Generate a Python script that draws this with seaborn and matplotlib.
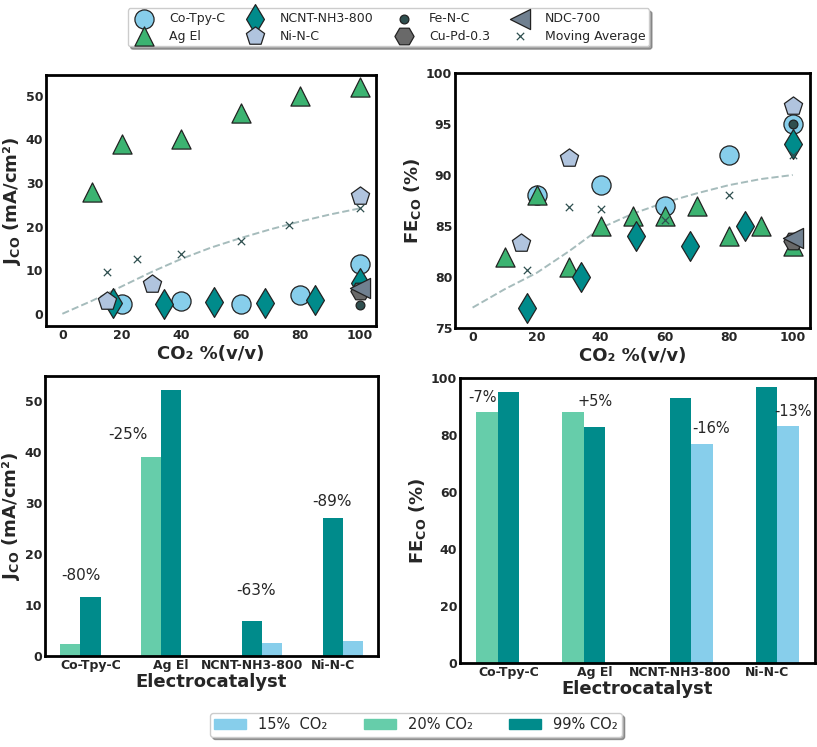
import numpy as np
import pandas as pd
import matplotlib
matplotlib.use('Agg')
import matplotlib.pyplot as plt
from matplotlib.patches import Patch
import seaborn as sns

# --- scatter data: J_CO (mA/cm2) vs CO2 %
co_x_j = [20, 40, 60, 80, 100]
co_y_j = [2.3, 3.0, 2.3, 4.3, 11.5]
ag_x_j = [10, 20, 40, 60, 80, 100]
ag_y_j = [28, 39, 40, 46, 50, 52]
ncnt_x_j = [17, 34, 51, 68, 85, 100]
ncnt_y_j = [2.5, 2.2, 2.8, 2.5, 3.2, 7.0]
ni_x_j = [15, 30, 100]
ni_y_j = [3.0, 6.8, 27.0]
fe_x_j = [100]
fe_y_j = [2.0]
cupd_x_j = [100]
cupd_y_j = [5.2]
ndc_x_j = [100]
ndc_y_j = [6.0]
ma_x_j = [15, 25, 40, 60, 76, 100]
ma_y_j = [9.6, 12.5, 13.8, 16.6, 20.4, 24.3]
trend_x_j = [0, 10, 20, 30, 40, 50, 60, 70, 80, 90, 100]
trend_y_j = [0.0, 3.0, 6.3, 9.6, 12.6, 15.2, 17.4, 19.4, 21.2, 22.8, 24.2]

# --- scatter data: FE_CO (%) vs CO2 %
co_x_f = [20, 40, 60, 80, 100]
co_y_f = [88, 89, 87, 92, 95]
ag_x_f = [10, 20, 30, 40, 50, 60, 70, 80, 90, 100]
ag_y_f = [82, 88, 81, 85, 86, 86, 87, 84, 85, 83]
ncnt_x_f = [17, 34, 51, 68, 85, 100]
ncnt_y_f = [77, 80, 84, 83, 85, 93]
ni_x_f = [15, 30, 100]
ni_y_f = [83.3, 91.7, 96.8]
fe_x_f = [100]
fe_y_f = [95]
cupd_x_f = [100]
cupd_y_f = [83.5]
ndc_x_f = [100]
ndc_y_f = [83.8]
ma_x_f = [17, 30, 40, 60, 80, 100]
ma_y_f = [80.7, 86.9, 86.7, 85.6, 88.0, 92.0]
trend_x_f = [0, 10, 20, 30, 40, 50, 60, 70, 80, 90, 100]
trend_y_f = [77.0, 78.8, 80.4, 82.5, 84.8, 86.2, 87.3, 88.2, 89.0, 89.6, 90.0]

# --- bar data
catalysts = ['Co-Tpy-C', 'Ag El', 'NCNT-NH3-800', 'Ni-N-C']
bar_cat = ['Co-Tpy-C', 'Co-Tpy-C', 'Ag El', 'Ag El', 'NCNT-NH3-800', 'NCNT-NH3-800', 'Ni-N-C', 'Ni-N-C']
bar_conc = ['20% CO₂', '99% CO₂', '20% CO₂', '99% CO₂', '99% CO₂', '15%  CO₂', '99% CO₂', '15%  CO₂']
bar_j = [2.3, 11.5, 39.0, 52.0, 6.9, 2.5, 27.0, 2.9]
bar_fe = [88, 95, 88, 83, 93, 77, 96.8, 83.2]

j_notes = ['-80%', '-25%', '-63%', '-89%']
j_note_x = [-0.12, 0.47, 2.05, 2.99]
j_note_y = [15.7, 43.3, 12.8, 30.2]
fe_notes = ['-7%', '+5%', '-16%', '-13%']
fe_note_x = [-0.30, 1.01, 2.36, 3.31]
fe_note_y = [93.2, 91.8, 82.4, 88.1]

sns.set_style('white')

fig = plt.figure(figsize=(8.17, 7.47), dpi=100)
ax1 = fig.add_axes([0.0563, 0.5636, 0.4039, 0.336])
ax2 = fig.add_axes([0.5569, 0.5609, 0.4345, 0.3414])
ax3 = fig.add_axes([0.0551, 0.1218, 0.4076, 0.3748])
ax4 = fig.add_axes([0.5630, 0.1124, 0.4345, 0.3815])

c_co = '#87CEEB'
c_ag = '#3CB371'
c_ncnt = '#008B8B'
c_ni = '#B0C4DE'
c_fe = '#2F4F4F'
c_cupd = '#696969'
c_ndc = '#708090'


def scatter_panel(ax, d):
    sns.lineplot(x=d['tx'], y=d['ty'], ax=ax, color='#a6bcbc', linestyle='--',
                 linewidth=1.4, zorder=1)
    kw = dict(ax=ax, edgecolor='#222222', linewidth=0.9, zorder=3)
    sns.scatterplot(x=d['co'][0], y=d['co'][1], marker='o', s=190, color=c_co, label='Co-Tpy-C', **kw)
    sns.scatterplot(x=d['ag'][0], y=d['ag'][1], marker='^', s=190, color=c_ag, label='Ag El', **kw)
    sns.scatterplot(x=d['ncnt'][0], y=d['ncnt'][1], marker='d', s=230, color=c_ncnt, label='NCNT-NH3-800', **kw)
    sns.scatterplot(x=d['ni'][0], y=d['ni'][1], marker='p', s=190, color=c_ni, label='Ni-N-C', **kw)
    sns.scatterplot(x=d['fe'][0], y=d['fe'][1], marker='o', s=40, color=c_fe, label='Fe-N-C', **kw)
    sns.scatterplot(x=d['cupd'][0], y=d['cupd'][1], marker='H', s=190, color=c_cupd, label='Cu-Pd-0.3', **kw)
    sns.scatterplot(x=d['ndc'][0], y=d['ndc'][1], marker='<', s=210, color=c_ndc, label='NDC-700', **kw)
    sns.scatterplot(x=d['ma'][0], y=d['ma'][1], marker='x', s=28, color=c_fe, linewidth=0.9,
                    label='Moving Average', ax=ax, zorder=4)
    ax.set_xlim(-5.5, 105.4)
    ax.set_xticks([0, 20, 40, 60, 80, 100])
    ax.set_xlabel('CO₂ %(v/v)', fontsize=13, fontweight='bold', labelpad=2)


scatter_panel(ax1, dict(tx=trend_x_j, ty=trend_y_j, co=(co_x_j, co_y_j), ag=(ag_x_j, ag_y_j),
                        ncnt=(ncnt_x_j, ncnt_y_j), ni=(ni_x_j, ni_y_j), fe=(fe_x_j, fe_y_j),
                        cupd=(cupd_x_j, cupd_y_j), ndc=(ndc_x_j, ndc_y_j), ma=(ma_x_j, ma_y_j)))
ax1.set_ylim(-2.8, 54.8)
ax1.set_yticks([0, 10, 20, 30, 40, 50])
ax1.set_ylabel(r'$\mathbf{J_{CO}}$ (mA/cm²)', fontsize=13, fontweight='bold', labelpad=2)

scatter_panel(ax2, dict(tx=trend_x_f, ty=trend_y_f, co=(co_x_f, co_y_f), ag=(ag_x_f, ag_y_f),
                        ncnt=(ncnt_x_f, ncnt_y_f), ni=(ni_x_f, ni_y_f), fe=(fe_x_f, fe_y_f),
                        cupd=(cupd_x_f, cupd_y_f), ndc=(ndc_x_f, ndc_y_f), ma=(ma_x_f, ma_y_f)))
ax2.set_ylim(75, 100)
ax2.set_yticks([75, 80, 85, 90, 95, 100])
ax2.set_ylabel(r'$\mathbf{FE_{CO}}$ (%)', fontsize=13, fontweight='bold', labelpad=2)

handles, labels = ax1.get_legend_handles_labels()
ax1.get_legend().remove()
ax2.get_legend().remove()
fig.legend(handles, labels, loc='upper center', bbox_to_anchor=(0.4755, 0.997), ncol=4,
           fontsize=9, shadow=True, frameon=True, columnspacing=1.4, handletextpad=1.0,
           borderpad=0.3, labelspacing=0.35)

# --- bars
bars = pd.DataFrame({'cat': bar_cat, 'conc': bar_conc, 'j': bar_j, 'fe': bar_fe})
hue_order = ['20% CO₂', '99% CO₂', '15%  CO₂']
pal = {'15%  CO₂': '#87CEEB', '20% CO₂': '#66CDAA', '99% CO₂': '#008B8B'}
for ax, col in [(ax3, 'j'), (ax4, 'fe')]:
    sns.barplot(data=bars, x='cat', y=col, hue='conc', hue_order=hue_order, order=catalysts,
                palette=pal, width=0.75, saturation=1, linewidth=0, ax=ax, legend=False)
    ax.set_xlim(-0.5625, 3.5625)
    ax.set_xlabel('Electrocatalyst', fontsize=13, fontweight='bold', labelpad=1)

ax3.set_ylim(0, 54.8)
ax3.set_yticks([0, 10, 20, 30, 40, 50])
ax3.set_ylabel(r'$\mathbf{J_{CO}}$ (mA/cm²)', fontsize=13, fontweight='bold', labelpad=2)
for t, x, y in zip(j_notes, j_note_x, j_note_y):
    ax3.text(x, y, t, ha='center', va='center', fontsize=11)

ax4.set_ylim(0, 100)
ax4.set_yticks([0, 20, 40, 60, 80, 100])
ax4.set_ylabel(r'$\mathbf{FE_{CO}}$ (%)', fontsize=13, fontweight='bold', labelpad=2)
for t, x, y in zip(fe_notes, fe_note_x, fe_note_y):
    ax4.text(x, y, t, ha='center', va='center', fontsize=10.5)

for ax in [ax1, ax2, ax3, ax4]:
    for s in ax.spines.values():
        s.set_linewidth(2)
        s.set_color('black')
    ax.tick_params(direction='in', length=3, width=1, labelsize=9, pad=2)
    for lab in ax.get_xticklabels() + ax.get_yticklabels():
        lab.set_fontweight('bold')

bar_handles = [Patch(color=pal[k]) for k in ['15%  CO₂', '20% CO₂', '99% CO₂']]
fig.legend(bar_handles, ['15%  CO₂', '20% CO₂', '99% CO₂'], loc='lower center',
           bbox_to_anchor=(0.509, 0.004), ncol=3, fontsize=10.5, shadow=True,
           columnspacing=2.5, handlelength=2.2, borderpad=0.3)

fig.savefig('out.png', dpi=100)
